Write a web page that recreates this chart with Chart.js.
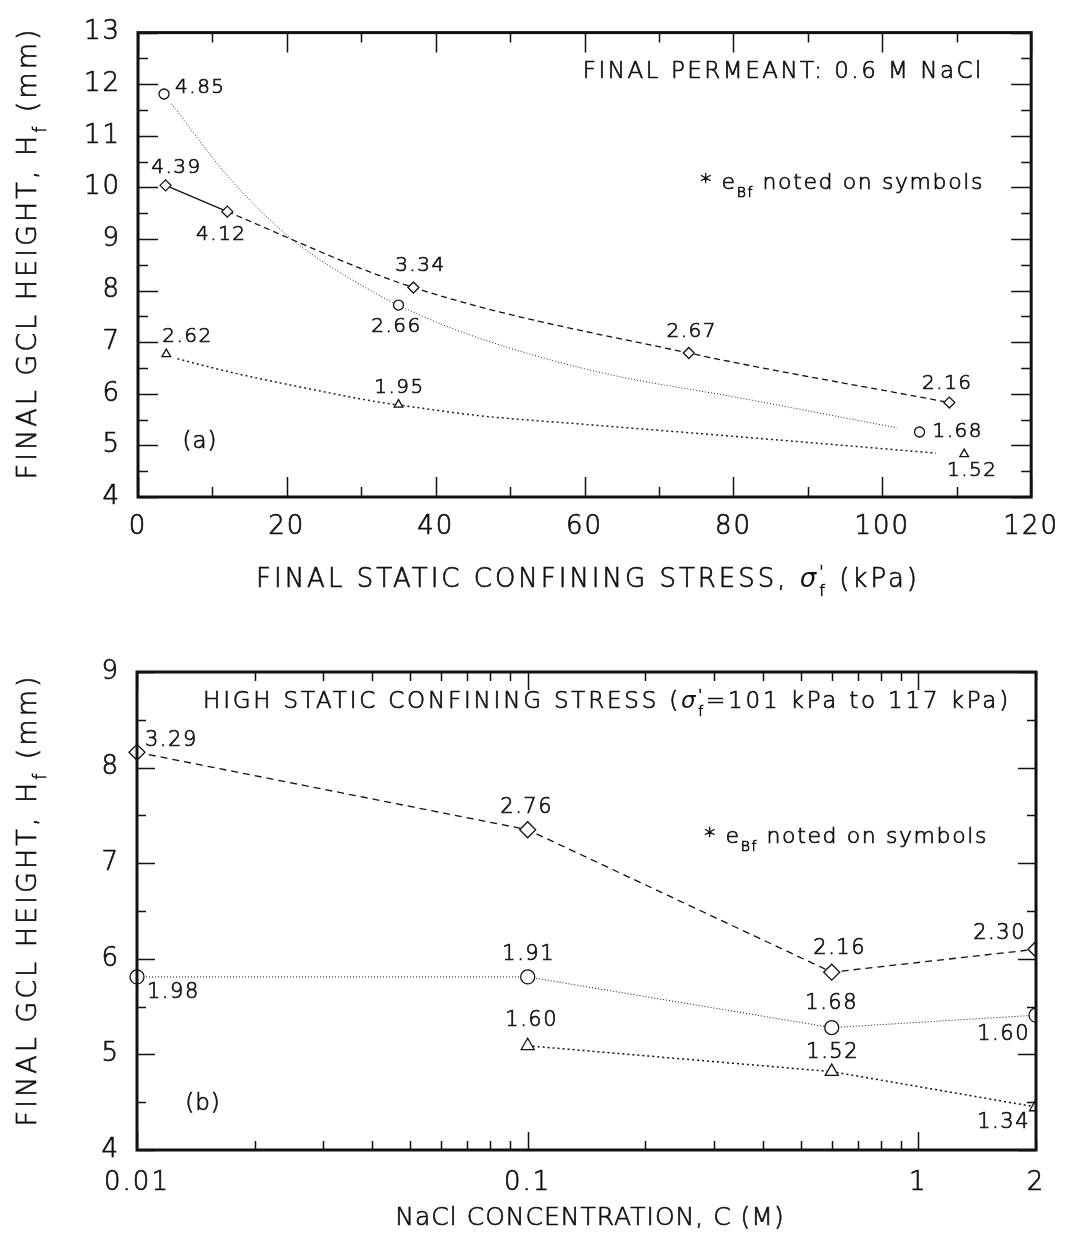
<!DOCTYPE html>
<html>
<head>
<meta charset="utf-8">
<title>Final GCL height</title>
<script src="https://cdn.jsdelivr.net/npm/chart.js@4.4.1/dist/chart.umd.min.js"></script>
<style>
  html, body { margin: 0; padding: 0; background: #fff; }
  #page { position: relative; width: 1071px; height: 1255px; overflow: hidden; background: #fff; }
  canvas { position: absolute; left: 0; }
  #chartA { top: 0; }
  #chartB { top: 620px; }
</style>
</head>
<body>
<div id="page">
  <canvas id="chartA" width="1071" height="620"></canvas>
  <canvas id="chartB" width="1071" height="635"></canvas>
</div>
<script>
// ---------- panel (a): final permeant 0.6 M NaCl ----------
const stressCircle   = [3.5, 35, 105];
const heightCircle   = [11.81, 7.72, 5.26];
const eBfCircle      = ['4.85', '2.66', '1.68'];

const stressDiamond  = [3.7, 12, 37, 74, 109];
const heightDiamond  = [10.04, 9.53, 8.06, 6.79, 5.83];
const eBfDiamond     = ['4.39', '4.12', '3.34', '2.67', '2.16'];

const stressTriangle = [3.8, 35, 111];
const heightTriangle = [6.77, 5.79, 4.83];
const eBfTriangle    = ['2.62', '1.95', '1.52'];

// trend curves through the circle and triangle series
const trendCircleX   = [4.5, 12, 20.3, 32, 37, 45.6, 61.6, 81.6, 102];
const trendCircleY   = [11.62, 10.23, 9.04, 7.94, 7.58, 7.09, 6.43, 5.90, 5.34];
const trendTriangleX = [5.3, 13, 21.2, 32.7, 37.2, 45.6, 61.6, 83.9, 107.2];
const trendTriangleY = [6.68, 6.40, 6.15, 5.83, 5.74, 5.58, 5.39, 5.13, 4.85];

const stressTicks  = [0, 20, 40, 60, 80, 100, 120];
const heightTicksA = [4, 5, 6, 7, 8, 9, 10, 11, 12, 13];

// ---------- panel (b): high static confining stress ----------
const concDiamond  = [0.01, 0.1, 0.6, 2];
const hDiamondB    = [8.16, 7.35, 5.86, 6.10];
const eBfDiamondB  = ['3.29', '2.76', '2.16', '2.30'];

const concCircle   = [0.01, 0.1, 0.6, 2];
const hCircleB     = [5.81, 5.81, 5.28, 5.41];
const eBfCircleB   = ['1.98', '1.91', '1.68', '1.60'];

const concTriangle = [0.1, 0.6, 2];
const hTriangleB   = [5.09, 4.82, 4.45];
const eBfTriangleB = ['1.60', '1.52', '1.34'];

const concTicks      = [0.01, 0.1, 1, 2];
const concTickLabels = ['0.01', '0.1', '1', '2'];
const heightTicksB   = [4, 5, 6, 7, 8, 9];

// ---------- drawing helpers ----------
const FONT = "'DejaVu Sans', 'Liberation Sans', sans-serif";
const WEIGHT = 200;      // light face, thickened slightly by a stroke
const STROKE = 0.7;
const INK = '#111';

const pts = (xs, ys) => xs.map((x, i) => ({ x, y: ys[i] }));

// text made of runs; a run may be italic, subscript or superscript.
// "keep" runs do not advance the pen, so the next run stacks under them.
function drawRich(ctx, parts, x, y, align, size, spacing) {
  ctx.save();
  ctx.fillStyle = INK;
  ctx.strokeStyle = INK;
  ctx.lineWidth = STROKE;
  ctx.textBaseline = 'middle';
  ctx.textAlign = 'left';
  ctx.letterSpacing = (spacing === undefined ? 1 : spacing) + 'px';
  const fontOf = p => (p.italic ? 'italic 400 ' : WEIGHT + ' ') +
    Math.round((p.sub || p.sup) ? size * 0.62 : size) + 'px ' + FONT;
  let total = 0;
  const widths = parts.map(p => {
    ctx.font = fontOf(p);
    const w = ctx.measureText(p.t).width;
    if (!p.keep) total += w;
    return w;
  });
  let cx = align === 'center' ? x - total / 2 : align === 'right' ? x - total : x;
  parts.forEach((p, i) => {
    ctx.font = fontOf(p);
    const dy = p.sub ? size * 0.45 : p.sup ? -size * 0.28 : 0;
    ctx.fillText(p.t, cx, y + dy);
    if (!p.italic) ctx.strokeText(p.t, cx, y + dy);
    if (!p.keep) cx += widths[i];
  });
  ctx.restore();
}

function majorMinor(lo, hi, step, minorStep) {
  const out = [];
  for (let v = lo; v <= hi + 1e-9; v += minorStep) {
    const r = Math.round(v * 1000) / 1000;
    const isMajor = Math.abs(r / step - Math.round(r / step)) < 1e-6;
    out.push([r, isMajor]);
  }
  return out;
}

function logMarks(lo, hi) {
  const out = [];
  for (let d = lo; d < hi; d *= 10) {
    for (let m = 1; m <= 9; m++) {
      const v = Math.round(d * m * 1e6) / 1e6;
      if (v > hi + 1e-9) break;
      out.push([v, m === 1]);
    }
  }
  return out;
}

const Y_TITLE = [{ t: 'FINAL GCL HEIGHT, H' }, { t: 'f', sub: true }, { t: ' (mm)' }];
const NOTE = [{ t: '* e' }, { t: 'Bf', sub: true }, { t: ' noted on symbols' }];

// per-canvas decoration: frame, inward ticks, value notes, free text
const decorConfig = {
  chartA: {
    xMarks: majorMinor(0, 120, 20, 10), yMarks: majorMinor(4, 13, 1, 0.5),
    majLen: 20, minLen: 10, frame: 3, labelSize: 20,
    notes: [
      { ds: 0, labels: eBfDiamond, place: [[11, -18, 'center'], [-6, 23, 'center'], [7, -22, 'center'], [3, -21, 'center'], [-2, -19, 'center']] },
      { ds: 1, labels: eBfCircle, place: [[11, -6, 'left'], [-2, 22, 'center'], [13, 0, 'left']] },
      { ds: 2, labels: eBfTriangle, place: [[-4, -17, 'left'], [1, -17, 'center'], [8, 17, 'center']] }
    ],
    texts: [
      { parts: [{ t: 'FINAL PERMEANT: 0.6 M NaCl' }], x: 984, y: 72, align: 'right', size: 23, spacing: 2.5 },
      { parts: NOTE, x: 984, y: 183, align: 'right', size: 22, spacing: 1.6 },
      { parts: [{ t: '(a)' }], x: 200, y: 442, align: 'center', size: 23, spacing: 1 },
      { parts: [{ t: 'FINAL STATIC CONFINING STRESS, ' }, { t: 'σ', italic: true }, { t: '\'', sup: true, keep: true }, { t: 'f', sub: true }, { t: ' (kPa)' }],
        x: 588, y: 580, align: 'center', size: 26, spacing: 3 },
      { parts: Y_TITLE, x: 29, y: 253, align: 'center', size: 27, spacing: 3, rotate: true }
    ]
  },
  chartB: {
    xMarks: logMarks(0.01, 2), yMarks: majorMinor(4, 9, 1, 0.5),
    majLen: 18, minLen: 9, frame: 3, labelSize: 21,
    notes: [
      { ds: 0, labels: eBfDiamondB, place: [[8, -12, 'left'], [-1, -22, 'center'], [8, -24, 'center'], [-10, -16, 'right']] },
      { ds: 1, labels: eBfCircleB, place: [[10, 16, 'left'], [1, -22, 'center'], [0, -24, 'center'], [-6, 19, 'right']] },
      { ds: 2, labels: eBfTriangleB, place: [[4, -25, 'center'], [1, -19, 'center'], [-6, 16, 'right']] }
    ],
    texts: [
      { parts: [{ t: 'HIGH STATIC CONFINING STRESS (' }, { t: 'σ', italic: true }, { t: '\'', sup: true, keep: true }, { t: 'f', sub: true }, { t: '=101 kPa to 117 kPa)' }],
        x: 607, y: 82, align: 'center', size: 23, spacing: 2.8 },
      { parts: NOTE, x: 988, y: 217, align: 'right', size: 22, spacing: 1.6 },
      { parts: [{ t: '(b)' }], x: 203, y: 484, align: 'center', size: 23, spacing: 1 },
      { parts: [{ t: 'NaCl CONCENTRATION, C (M)' }], x: 590, y: 598, align: 'center', size: 25, spacing: 1 },
      { parts: Y_TITLE, x: 29, y: 280, align: 'center', size: 27, spacing: 3, rotate: true }
    ]
  }
};

const decorPlugin = {
  id: 'decor',
  beforeDraw(chart) { chart.ctx.letterSpacing = '2px'; },
  afterDatasetsDraw(chart) {
    const cfg = decorConfig[chart.canvas.id];
    if (!cfg) return;
    const { ctx, chartArea: a } = chart;
    const xs = chart.scales.x, ys = chart.scales.y;
    ctx.save();
    ctx.strokeStyle = INK;
    ctx.lineWidth = 1.5;
    ctx.beginPath();
    cfg.xMarks.forEach(([v, major]) => {
      const px = Math.round(xs.getPixelForValue(v)) + 0.5;
      const len = major ? cfg.majLen : cfg.minLen;
      ctx.moveTo(px, a.bottom); ctx.lineTo(px, a.bottom - len);
      ctx.moveTo(px, a.top); ctx.lineTo(px, a.top + len);
    });
    cfg.yMarks.forEach(([v, major]) => {
      const py = Math.round(ys.getPixelForValue(v)) + 0.5;
      const len = major ? cfg.majLen : cfg.minLen;
      ctx.moveTo(a.left, py); ctx.lineTo(a.left + len, py);
      ctx.moveTo(a.right, py); ctx.lineTo(a.right - len, py);
    });
    ctx.stroke();
    ctx.lineWidth = cfg.frame;
    ctx.strokeRect(a.left, a.top, a.right - a.left, a.bottom - a.top);

    // e_Bf notes beside the symbols
    cfg.notes.forEach(n => {
      const meta = chart.getDatasetMeta(n.ds);
      meta.data.forEach((el, i) => {
        const [dx, dy, align] = n.place[i];
        drawRich(ctx, [{ t: n.labels[i] }], el.x + dx, el.y + dy, align, cfg.labelSize, 1.5);
      });
    });

    cfg.texts.forEach(t => {
      if (t.rotate) {
        ctx.save();
        ctx.translate(t.x, t.y);
        ctx.rotate(-Math.PI / 2);
        drawRich(ctx, t.parts, 0, 0, t.align, t.size, t.spacing);
        ctx.restore();
      } else {
        drawRich(ctx, t.parts, t.x, t.y, t.align, t.size, t.spacing);
      }
    });
    ctx.restore();
  },
  afterDraw(chart) { chart.ctx.letterSpacing = '0px'; }
};

function markerSet(data, style, radius, line) {
  return Object.assign({
    data,
    showLine: false,
    pointStyle: style,
    pointRadius: radius,
    pointHoverRadius: radius,
    pointBackgroundColor: '#fff',
    pointBorderColor: INK,
    pointBorderWidth: 1.3,
    borderColor: INK,
    borderWidth: 1.2,
    fill: false
  }, line || {});
}

function trendSet(data, dash, width) {
  return {
    data, showLine: true, pointRadius: 0, pointHoverRadius: 0,
    borderColor: '#222', borderWidth: width, borderDash: dash,
    cubicInterpolationMode: 'monotone', fill: false
  };
}

function tickOpts(size, padding, extra) {
  return Object.assign({
    font: { family: FONT, size, weight: WEIGHT },
    color: INK, textStrokeColor: INK, textStrokeWidth: STROKE,
    padding, autoSkip: false, maxRotation: 0
  }, extra || {});
}

const commonOptions = {
  responsive: false,
  animation: false,
  events: [],
  plugins: { legend: { display: false }, tooltip: { enabled: false } }
};

const hiddenGrid = { display: false, drawTicks: false };

// ---------- chart (a) ----------
new Chart(document.getElementById('chartA'), {
  type: 'line',
  data: {
    datasets: [
      markerSet(pts(stressDiamond, heightDiamond), 'rectRot', 5.5, {
        showLine: true, borderDash: [6, 4], borderWidth: 1.3,
        cubicInterpolationMode: 'monotone',
        segment: { borderDash: c => (c.p0DataIndex === 0 ? [] : [6, 4]) }
      }),
      markerSet(pts(stressCircle, heightCircle), 'circle', 5),
      markerSet(pts(stressTriangle, heightTriangle), 'triangle', 5),
      trendSet(pts(trendCircleX, trendCircleY), [1, 2], 1),
      trendSet(pts(trendTriangleX, trendTriangleY), [2, 3], 1.5)
    ]
  },
  options: Object.assign({}, commonOptions, {
    layout: { padding: { top: 20, right: 33, left: 0, bottom: 0 } },
    scales: {
      x: {
        type: 'linear', min: 0, max: 120,
        afterBuildTicks: s => { s.ticks = stressTicks.map(v => ({ value: v })); },
        ticks: tickOpts(26, 15),
        grid: hiddenGrid, border: { display: false },
        afterFit: s => { s.height = 123; }
      },
      y: {
        type: 'linear', min: 4, max: 13,
        afterBuildTicks: s => { s.ticks = heightTicksA.map(v => ({ value: v })); },
        ticks: tickOpts(26, 17),
        grid: hiddenGrid, border: { display: false },
        afterFit: s => { s.width = 138; }
      }
    }
  }),
  plugins: [decorPlugin]
});

// ---------- chart (b) ----------
const clipB = { left: 14, top: 10, right: 0, bottom: 10 };
new Chart(document.getElementById('chartB'), {
  type: 'line',
  data: {
    datasets: [
      markerSet(pts(concDiamond, hDiamondB), 'rectRot', 8, { showLine: true, borderDash: [7, 5], borderWidth: 1.3, clip: clipB }),
      markerSet(pts(concCircle, hCircleB), 'circle', 7, { showLine: true, borderDash: [1, 2], borderWidth: 1, clip: clipB }),
      markerSet(pts(concTriangle, hTriangleB), 'triangle', 7.5, { showLine: true, borderDash: [2, 3], borderWidth: 1.5, clip: clipB })
    ]
  },
  options: Object.assign({}, commonOptions, {
    layout: { padding: { top: 52, right: 35, left: 0, bottom: 0 } },
    scales: {
      x: {
        type: 'logarithmic', min: 0.01, max: 2,
        afterBuildTicks: s => { s.ticks = concTicks.map(v => ({ value: v })); },
        ticks: tickOpts(26, 18, { callback: (v, i) => concTickLabels[i] }),
        grid: hiddenGrid, border: { display: false },
        afterFit: s => { s.height = 105; }
      },
      y: {
        type: 'linear', min: 4, max: 9,
        afterBuildTicks: s => { s.ticks = heightTicksB.map(v => ({ value: v })); },
        ticks: tickOpts(26, 17),
        grid: hiddenGrid, border: { display: false },
        afterFit: s => { s.width = 137; }
      }
    }
  }),
  plugins: [decorPlugin]
});
</script>
</body>
</html>
